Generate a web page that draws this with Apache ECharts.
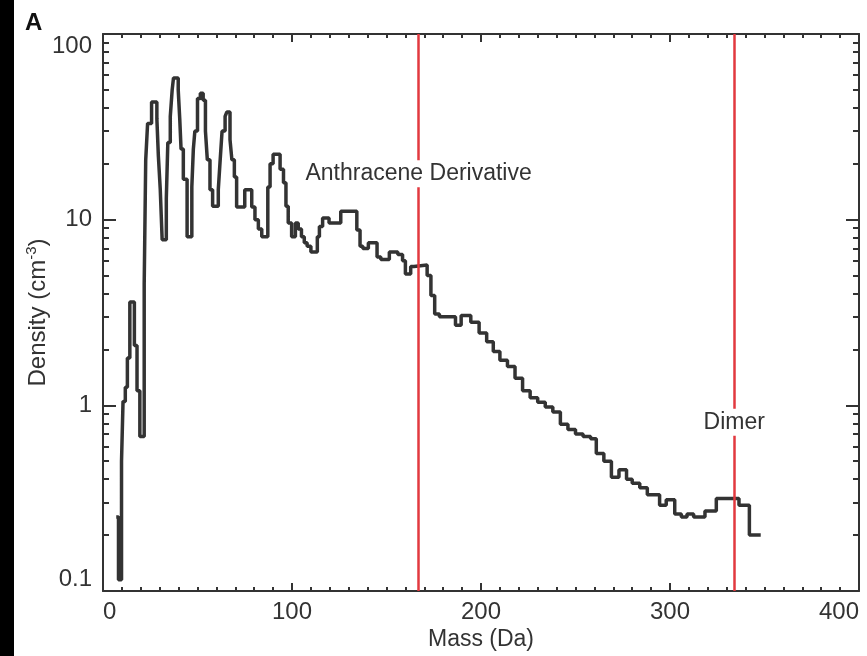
<!DOCTYPE html>
<html>
<head>
<meta charset="utf-8">
<title>Density vs Mass</title>
<script src="https://cdn.jsdelivr.net/npm/echarts@6.0.0/dist/echarts.min.js"></script>
<style>
  html, body { margin: 0; padding: 0; background: #fff; }
  #chart { width: 867px; height: 656px; }
</style>
</head>
<body>
<div id="chart"></div>
<script>
// bin left edges (Da) and density (cm^-3); last entry closes the final bin
var mass = [
  7.0, 8.2, 9.8, 10.6, 11.8, 12.9, 14.2, 16.6, 18.0, 19.5,
  21.8, 22.6, 23.6, 25.7, 28.5, 29.3, 30.3, 31.3, 33.5, 34.3,
  35.6, 36.6, 37.3, 39.8, 40.6, 41.3, 42.5, 44.5, 47.0, 47.8,
  48.6, 50.0, 51.5, 53.0, 54.2, 55.2, 56.6, 58.0, 61.0, 62.0,
  63.0, 64.6, 65.5, 67.2, 68.2, 69.5, 70.7, 75.0, 78.7, 80.4,
  82.2, 84.0, 87.2, 88.4, 90.0, 93.7, 95.5, 96.8, 98.0, 99.8,
  101.8, 103.3, 105.0, 106.5, 108.0, 110.0, 113.4, 114.5, 116.2, 119.6,
  125.8, 134.3, 136.0, 137.5, 140.4, 145.0, 147.0, 151.5, 156.0, 158.5,
  160.0, 162.8, 164.5, 171.5, 173.5, 175.5, 178.0, 186.5, 189.5, 194.6,
  199.0, 203.0, 206.5, 210.0, 214.0, 218.0, 222.0, 226.0, 230.0, 234.0,
  238.0, 242.0, 246.0, 250.0, 254.0, 258.0, 261.0, 265.0, 269.0, 273.0,
  277.0, 280.0, 284.0, 288.0, 291.5, 294.5, 298.0, 302.5, 306.0, 309.0,
  312.5, 318.5, 324.5, 336.5, 342.0, 348.0
];
var density = [
  0.25, 0.115, 0.5, 1.05, 1.25, 1.8, 3.6, 2.1, 1.2, 0.68,
  4.5, 21, 33, 43, 35, 22, 14.5, 7.8, 13, 26,
  36, 50, 58, 50, 35, 24, 16.5, 8.1, 15, 24,
  30, 45, 48, 44, 30, 21, 14.5, 11.8, 14.5, 21,
  30, 36, 38, 27, 21, 17, 11.7, 14.5, 11.7, 10,
  8.9, 8.1, 15, 20, 22.5, 18.7, 15.8, 11.8, 9.6, 8.1,
  9.6, 8.9, 8.1, 7.5, 7.2, 6.7, 8.1, 9.2, 10.2, 9.6,
  11.1, 8.8, 7.2, 7.0, 7.5, 6.3, 6.1, 6.7, 6.5, 6.0,
  5.1, 5.6, 5.7, 5.0, 3.9, 3.1, 3.0, 2.7, 3.05, 2.8,
  2.45, 2.2, 1.95, 1.75, 1.62, 1.4, 1.2, 1.1, 1.04, 0.98,
  0.92, 0.79, 0.74, 0.70, 0.68, 0.66, 0.55, 0.50, 0.41, 0.45,
  0.40, 0.38, 0.36, 0.33, 0.33, 0.29, 0.31, 0.26, 0.25, 0.26,
  0.25, 0.27, 0.315, 0.29, 0.2, 0.2
];

// annotated masses (red lines) and where their labels sit
var markerNames = ['Anthracene Derivative', 'Dimer'];
var markerMass = [167, 334];
var markerLabelDensity = [17.7, 0.81];

var xTicks = [0, 100, 200, 300, 400];
var yTicks = [0.1, 1, 10, 100];
var yMinorTicks = [0.2, 0.3, 0.4, 0.5, 0.6, 0.7, 0.8, 0.9,
  2, 3, 4, 5, 6, 7, 8, 9, 20, 30, 40, 50, 60, 70, 80, 90];

var fontFam = 'Liberation Sans, Arial, Helvetica, sans-serif';
var axisColor = '#333';
var textColor = '#333';
var redColor = '#e2393f';

var lineData = mass.map(function (m, i) { return [m, density[i]]; });

function xAxisCfg(pos, showLabels) {
  return {
    type: 'value',
    position: pos,
    min: xTicks[0],
    max: xTicks[xTicks.length - 1],
    interval: 100,
    name: showLabels ? 'Mass (Da)' : '',
    nameLocation: 'middle',
    nameGap: 37,
    nameMoveOverlap: false,
    nameTextStyle: { fontFamily: fontFam, fontSize: 23, color: textColor },
    axisLine: { show: true, onZero: false, lineStyle: { color: axisColor, width: 2 } },
    axisTick: { show: true, inside: true, length: 8, lineStyle: { color: axisColor, width: 2 } },
    minorTick: { show: true, splitNumber: 10, length: 4, lineStyle: { color: axisColor, width: 2 } },
    axisLabel: {
      show: showLabels, fontFamily: fontFam, fontSize: 24, color: textColor, margin: 9,
      alignMinLabel: 'left', alignMaxLabel: 'right'
    },
    splitLine: { show: false },
    minorSplitLine: { show: false }
  };
}

function yAxisCfg(pos, major) {
  var cfg = {
    type: 'log',
    logBase: 10,
    position: pos,
    min: yTicks[0],
    max: yTicks[yTicks.length - 1],
    axisLine: { show: major, onZero: false, lineStyle: { color: axisColor, width: 2 } },
    axisTick: { show: true, inside: true, length: major ? 13 : 6, lineStyle: { color: axisColor, width: 2 } },
    axisLabel: { show: false },
    splitLine: { show: false }
  };
  if (!major) {
    cfg.axisTick.customValues = yMinorTicks;
  }
  if (major && pos === 'left') {
    cfg.name = '{n|Density (cm}{s|-3}{n|)}';
    cfg.nameLocation = 'middle';
    cfg.nameGap = 51;
    cfg.nameMoveOverlap = false;
    cfg.nameTextStyle = {
      fontFamily: fontFam, color: textColor,
      rich: {
        n: { fontFamily: fontFam, fontSize: 24, color: textColor, lineHeight: 28 },
        s: { fontFamily: fontFam, fontSize: 15, color: textColor, lineHeight: 28, verticalAlign: 'top', padding: [0, 0, 11, 0] }
      }
    };
    cfg.axisLabel = {
      show: true, fontFamily: fontFam, fontSize: 24, color: textColor, margin: 11,
      customValues: yTicks,
      verticalAlignMinLabel: 'bottom', verticalAlignMaxLabel: 'top',
      formatter: function (v) { return String(+Number(v).toPrecision(3)); }
    };
  }
  return cfg;
}

var chart = echarts.init(document.getElementById('chart'), null, { renderer: 'canvas' });

var option = {
  backgroundColor: '#fff',
  animation: false,
  title: {
    text: 'A', left: 20, top: 6,
    textStyle: { fontFamily: fontFam, fontSize: 24, fontWeight: 'bold', color: '#111' }
  },
  graphic: [{
    type: 'rect', left: 0, top: 0, z: 100,
    shape: { width: 14, height: 656 },
    style: { fill: '#000' }
  }],
  grid: { left: 103, right: 8, top: 34, bottom: 63, containLabel: false },
  xAxis: [xAxisCfg('bottom', true), xAxisCfg('top', false)],
  yAxis: [yAxisCfg('left', true), yAxisCfg('left', false), yAxisCfg('right', true), yAxisCfg('right', false)],
  series: [{
    type: 'line',
    step: 'end',
    data: lineData,
    xAxisIndex: 0,
    yAxisIndex: 0,
    symbol: 'none',
    lineStyle: { color: '#333', width: 3.5 },
    z: 3,
    markLine: {
      silent: true,
      symbol: ['none', 'none'],
      label: { show: false },
      lineStyle: { color: redColor, width: 2.5, type: 'solid' },
      data: markerMass.map(function (m) { return { xAxis: m }; })
    },
    markPoint: {
      silent: true,
      z: 10,
      symbol: 'rect',
      symbolSize: 0,
      data: markerNames.map(function (n, i) {
        return {
          coord: [markerMass[i], markerLabelDensity[i]],
          value: n,
          label: {
            show: true, position: 'inside', formatter: n,
            fontFamily: fontFam, fontSize: 23, color: textColor,
            backgroundColor: '#fff', padding: [2, 1]
          }
        };
      })
    }
  }]
};

chart.setOption(option);
</script>
</body>
</html>
